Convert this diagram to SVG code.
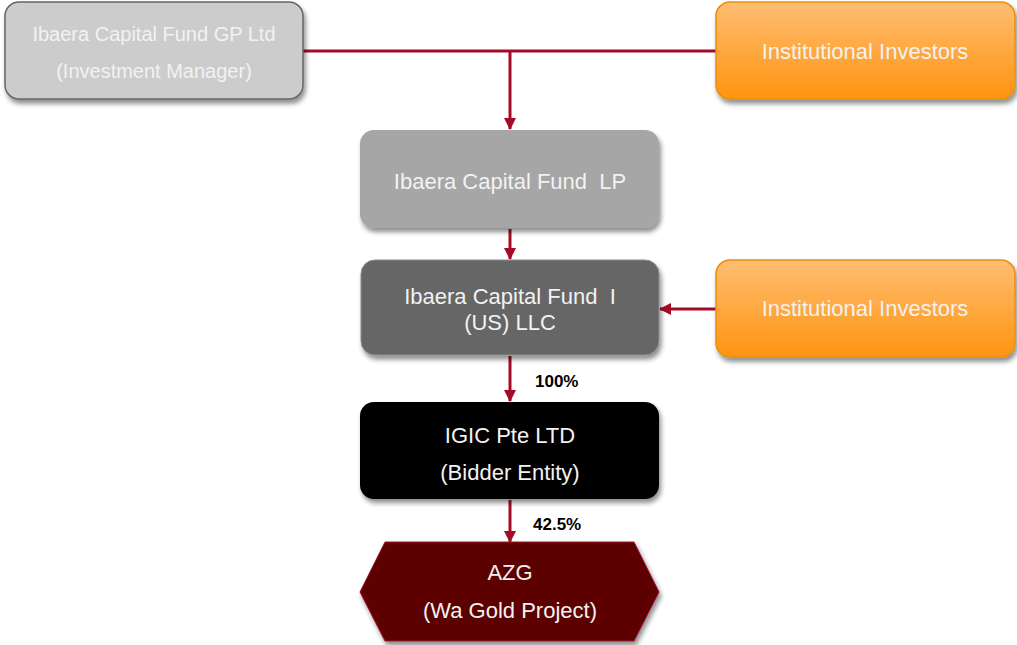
<svg xmlns="http://www.w3.org/2000/svg" width="1017" height="645" viewBox="0 0 1017 645">
<style>
.t{font-family:"Liberation Sans",Arial,sans-serif;font-size:22px;fill:#f2f2f2;text-anchor:middle;white-space:pre}
.s{font-size:20px}
.pct{font-family:"Liberation Sans",Arial,sans-serif;font-size:17px;font-weight:bold;fill:#000}
.c{stroke:#a50b26;stroke-width:3;fill:none}
</style>
<defs>
<filter id="sh" x="-10%" y="-10%" width="125%" height="135%">
<feGaussianBlur in="SourceAlpha" stdDeviation="2.5"/>
<feOffset dx="2" dy="4"/>
<feComponentTransfer><feFuncA type="linear" slope="0.45"/></feComponentTransfer>
<feMerge><feMergeNode/><feMergeNode in="SourceGraphic"/></feMerge>
</filter>
<linearGradient id="og" x1="0" y1="0" x2="0" y2="1">
<stop offset="0" stop-color="#ffbd72"/>
<stop offset="1" stop-color="#ff9410"/>
</linearGradient>
<marker id="ah" markerWidth="12" markerHeight="12" viewBox="0 0 12 12" refX="11" refY="6" orient="auto" markerUnits="userSpaceOnUse">
<path d="M0,0 L12,6 L0,12 Z" fill="#a50b26"/>
</marker>
</defs>
<g id="connectors">
<path class="c" d="M303,51 H716"/>
<path class="c" d="M510,51 V129" marker-end="url(#ah)"/>
<path class="c" d="M510,229 V259" marker-end="url(#ah)"/>
<path class="c" d="M716,309 H660" marker-end="url(#ah)"/>
<path class="c" d="M510,356 V401" marker-end="url(#ah)"/>
<path class="c" d="M510,500 V542" marker-end="url(#ah)"/>
<text class="pct" x="535" y="387">100%</text>
<text class="pct" x="533" y="530">42.5%</text>
</g>
<g id="gp">
<rect x="5" y="2" width="298" height="97" rx="14" fill="#cccccc" stroke="#666" stroke-width="1.5" filter="url(#sh)"/>
<text class="t s" x="154" y="41">Ibaera Capital Fund GP Ltd</text>
<text class="t s" x="154" y="78">(Investment Manager)</text>
</g>
<g id="inv1">
<rect x="716" y="2" width="299" height="97" rx="14" fill="url(#og)" stroke="#e8900a" stroke-width="1.5" filter="url(#sh)"/>
<text class="t" x="865" y="59">Institutional Investors</text>
</g>
<g id="lp">
<rect x="360" y="130" width="299" height="98" rx="14" fill="#a6a6a6" filter="url(#sh)"/>
<text class="t" x="510" y="189">Ibaera Capital Fund  LP</text>
</g>
<g id="llc">
<rect x="361" y="260" width="298" height="95" rx="14" fill="#666666" stroke="#8c8c8c" stroke-width="1" filter="url(#sh)"/>
<text class="t" x="510" y="304">Ibaera Capital Fund  I</text>
<text class="t" x="510" y="330">(US) LLC</text>
</g>
<g id="inv2">
<rect x="716" y="260" width="299" height="97" rx="14" fill="url(#og)" stroke="#e8900a" stroke-width="1.5" filter="url(#sh)"/>
<text class="t" x="865" y="316">Institutional Investors</text>
</g>
<g id="igic">
<rect x="360" y="402" width="299" height="97" rx="14" fill="#000" filter="url(#sh)"/>
<text class="t" x="510" y="443">IGIC Pte LTD</text>
<text class="t" x="510" y="480">(Bidder Entity)</text>
</g>
<g id="azg">
<path d="M385,542 H634 L659,592 L634,641 H385 L360,592 Z" fill="#5c0000" stroke="#a01030" stroke-width="1" filter="url(#sh)"/>
<text class="t" x="510" y="580">AZG</text>
<text class="t" x="510" y="618">(Wa Gold Project)</text>
</g>
</svg>
